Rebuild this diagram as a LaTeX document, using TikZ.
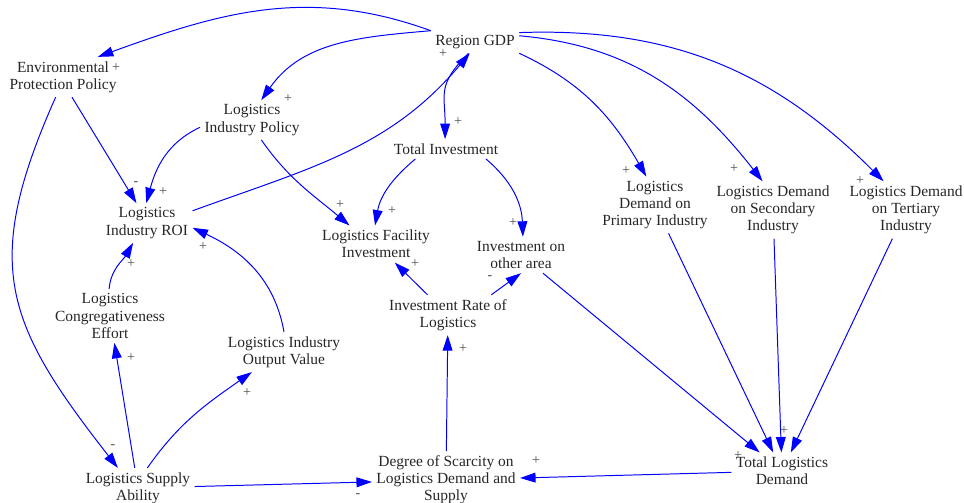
\documentclass[tikz,border=0pt]{standalone}
\usepackage{fontspec}
\setmainfont{Liberation Serif}
\usetikzlibrary{arrows.meta}

\begin{document}
\begin{tikzpicture}[x=0.025cm, y=0.025cm, >={Triangle[length=11pt,width=7pt]},
  var/.style={align=center, inner sep=3pt, text=black!85, font=\fontsize{11}{12.2}\selectfont},
  link/.style={->, blue, line width=0.7pt},
  sgn/.style={inner sep=0pt, text=black!70, font=\fontsize{10}{10}\selectfont}]

\useasboundingbox (0,0) rectangle (964,-503);

% variables
\node[var] (gdp)  at (475,-42)  {Region GDP};
\node[var] (env)  at (63,-77)   {Environmental\\Protection Policy};
\node[var] (lip)  at (252,-120) {Logistics\\Industry Policy};
\node[var] (roi)  at (147,-223) {Logistics\\Industry ROI};
\node[var] (ti)   at (446,-149) {Total Investment};
\node[var] (lfi)  at (376,-244) {Logistics Facility\\Investment};
\node[var] (ioa)  at (521,-255) {Investment on\\other area};
\node[var] (dpi)  at (655,-205) {Logistics\\Demand on\\Primary Industry};
\node[var] (dsi)  at (773,-210) {Logistics Demand\\on Secondary\\Industry};
\node[var] (dti)  at (906,-210) {Logistics Demand\\on Tertiary\\Industry};
\node[var] (lce)  at (110,-316) {Logistics\\Congregativeness\\Effort};
\node[var] (liov) at (284,-352) {Logistics Industry\\Output Value};
\node[var] (irl)  at (448,-315) {Investment Rate of\\Logistics};
\node[var] (lsa)  at (138,-488) {Logistics Supply\\Ability};
\node[var] (dos)  at (446,-480) {Degree of Scarcity on\\Logistics Demand and\\Supply};
\node[var] (tld)  at (782,-471) {Total Logistics\\Demand};

% links
\draw[link] (gdp.north west) to[out=160,in=20] (env.30);
\draw[link] (gdp.north west) to[out=185,in=55] (lip.65);
\draw[link] (gdp.240) to[out=225,in=90,looseness=1.3] (ti.95);
\draw[link] (roi.15) to[out=20,in=230] (gdp.245);
\draw[link] (gdp.south east) to[out=-25,in=120] (dpi.107);
\draw[link] (gdp.8) to[out=-5,in=128] (dsi.110);
\draw[link] (gdp.12) to[out=2,in=135] (dti.128);
\draw[link] (env.294) -- (roi.118);
\draw[link] (lip.188) to[out=205,in=75] (roi.92);
\draw[link] (lip.-65) to[out=-55,in=140] (lfi.145);
\draw[link] (ti.198) to[out=220,in=80] (lfi.93);
\draw[link] (ti.-14) to[out=-40,in=92] (ioa.84);
\draw[link] (env.250) to[out=246,in=128,looseness=1.25] (lsa.135);
\draw[link] (lce.92) to[out=85,in=240] (roi.235);
\draw[link] (liov.north) to[out=100,in=-25] (roi.-6);
\draw[link] (lsa) -- (lce);
\draw[link] (lsa.65) to[out=55,in=215] (liov.212);
\draw[link] (lsa) -- (dos);
\draw[link] (tld) -- (dos);
\draw[link] (dos) -- (irl);
\draw[link] (irl) -- (lfi);
\draw[link] (irl.25) -- (ioa.south);
\draw[link] (ioa) -- (tld);
\draw[link] (dpi) -- (tld);
\draw[link] (dsi) -- (tld);
\draw[link] (dti) -- (tld);

% polarities
\foreach \x/\y/\s [count=\i] in {116/68/+, 288/99/+, 443/54/+, 458/122/+, 626/171/+,
    734/169/+, 860/181/+, 136/184/-, 163/192/+, 340/205/+, 392/211/+, 513/223/+,
    131/264/+, 203/247/+, 131/358/+, 247/393/+, 113/447/-, 415/264/+, 490/278/-,
    463/349/+, 536/461/+, 358/496/-, 738/456/+, 784/431/+}
  \node[sgn] (p\i) at (\x,-\y) {\s};

\end{tikzpicture}
\end{document}
